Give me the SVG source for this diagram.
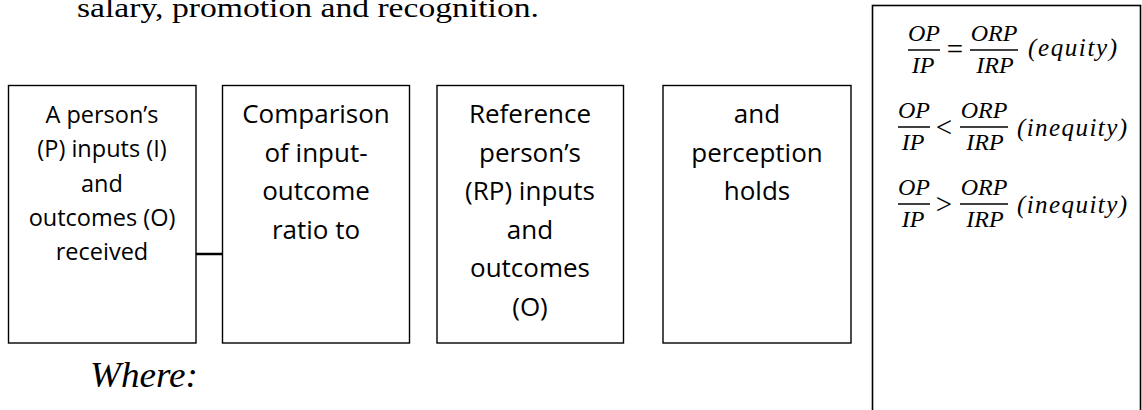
<svg xmlns="http://www.w3.org/2000/svg" width="1142" height="410" viewBox="0 0 1142 410">
<style>
.box{fill:#fff;stroke:#000;stroke-width:1.4}
.bt{font-family:"Open Sans","Liberation Sans",sans-serif;fill:#000;text-anchor:middle}
.b1{font-size:23.5px}
.b2{font-size:26px}
.cal{font-family:"Liberation Serif",serif;fill:#000}
.m{font-family:"Liberation Serif",serif;font-style:italic;font-size:24px;fill:#000;text-anchor:middle}
.op{font-family:"Liberation Serif",serif;font-size:29px;fill:#000;text-anchor:middle}
.lbl{font-family:"Liberation Serif",serif;font-style:italic;font-size:25px;fill:#000}
.bar{stroke:#000;stroke-width:1.5}
</style>
<rect width="1142" height="410" fill="#fff"/>
<text class="cal" x="77" y="17" font-size="27" textLength="462" lengthAdjust="spacingAndGlyphs">salary, promotion and recognition.</text>
<text class="cal" x="90" y="387" font-size="36" font-style="italic" textLength="108" lengthAdjust="spacingAndGlyphs">Where:</text>

<g id="connectors">
<line x1="196" y1="254" x2="222" y2="254" stroke="#000" stroke-width="2.5"/>
</g>

<g id="node1">
<rect class="box" x="8.5" y="85.5" width="187.5" height="257.5"/>
<text class="bt b1" x="102" y="123">A person’s</text>
<text class="bt b1" x="102" y="157">(P) inputs (I)</text>
<text class="bt b1" x="102" y="192">and</text>
<text class="bt b1" x="102" y="226">outcomes (O)</text>
<text class="bt b1" x="102" y="260">received</text>
</g>

<g id="node2">
<rect class="box" x="222.5" y="85.5" width="187" height="257.5"/>
<text class="bt b2" x="316" y="123">Comparison</text>
<text class="bt b2" x="316" y="161.5">of input-</text>
<text class="bt b2" x="316" y="200">outcome</text>
<text class="bt b2" x="316" y="238.5">ratio to</text>
</g>

<g id="node3">
<rect class="box" x="437" y="85.5" width="186.5" height="257.5"/>
<text class="bt b2" x="530" y="123">Reference</text>
<text class="bt b2" x="530" y="161.5">person’s</text>
<text class="bt b2" x="530" y="200">(RP) inputs</text>
<text class="bt b2" x="530" y="238.5">and</text>
<text class="bt b2" x="530" y="277">outcomes</text>
<text class="bt b2" x="530" y="315.5">(O)</text>
</g>

<g id="node4">
<rect class="box" x="663" y="85.5" width="188" height="257.5"/>
<text class="bt b2" x="757" y="123">and</text>
<text class="bt b2" x="757" y="161.5">perception</text>
<text class="bt b2" x="757" y="200">holds</text>
</g>

<g id="node5">
<rect x="872.5" y="5.5" width="268" height="420" fill="none" stroke="#000" stroke-width="1.6"/>
<!-- equation 1 -->
<text class="m" x="924" y="41">OP</text>
<line class="bar" x1="908" y1="50" x2="940" y2="50"/>
<text class="m" x="923" y="73">IP</text>
<text class="op" x="955" y="59">=</text>
<text class="m" x="994" y="41">ORP</text>
<line class="bar" x1="970" y1="50" x2="1018" y2="50"/>
<text class="m" x="995" y="73">IRP</text>
<text class="lbl" x="1028" y="56" textLength="89" lengthAdjust="spacing">(equity)</text>
<!-- equation 2 -->
<text class="m" x="914" y="118">OP</text>
<line class="bar" x1="898" y1="127" x2="930" y2="127"/>
<text class="m" x="913" y="150">IP</text>
<text class="op" x="944" y="137">&lt;</text>
<text class="m" x="984" y="118">ORP</text>
<line class="bar" x1="960" y1="127" x2="1008" y2="127"/>
<text class="m" x="985" y="150">IRP</text>
<text class="lbl" x="1017" y="136" textLength="110" lengthAdjust="spacing">(inequity)</text>
<!-- equation 3 -->
<text class="m" x="914" y="195">OP</text>
<line class="bar" x1="898" y1="204" x2="930" y2="204"/>
<text class="m" x="913" y="227">IP</text>
<text class="op" x="944" y="214">&gt;</text>
<text class="m" x="984" y="195">ORP</text>
<line class="bar" x1="960" y1="204" x2="1008" y2="204"/>
<text class="m" x="985" y="227">IRP</text>
<text class="lbl" x="1017" y="213" textLength="110" lengthAdjust="spacing">(inequity)</text>
</g>
</svg>
